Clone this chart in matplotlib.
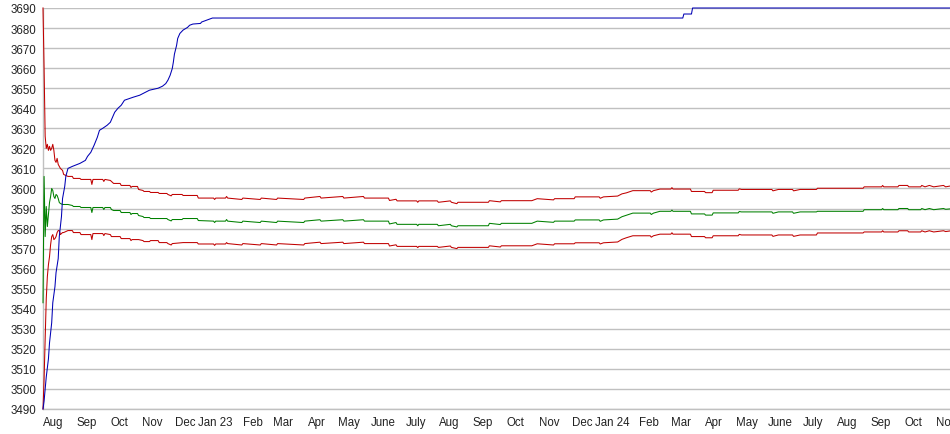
# plot.py
# 走势图：均值(绿)、上下轨(红)、累计最高(蓝)

import numpy as np
import pandas as pd
import matplotlib
matplotlib.use("Agg")
import matplotlib.pyplot as plt

plt.rcParams['font.family'] = ['Liberation Sans', 'DejaVu Sans']

# 数据（从图上读出，日期 = 起始日 + 天数）
start_date = "2022-08-06"

band_days = [0, 1, 2, 3, 4, 5, 6, 7, 8, 9,
             10, 11, 12, 13, 14, 15, 16, 18, 19, 23,
             27, 28, 34, 35, 44, 45, 46, 55, 56, 57,
             62, 63, 65, 71, 72, 80, 81, 82, 87, 88,
             92, 93, 98, 99, 106, 107, 114, 115, 118, 119,
             128, 129, 142, 143, 157, 158, 159, 168, 169, 170,
             183, 184, 200, 201, 215, 216, 240, 241, 255, 256,
             276, 277, 295, 296, 318, 319, 325, 326, 344, 345,
             346, 363, 364, 375, 376, 381, 382, 410, 411, 421,
             422, 450, 455, 470, 471, 489, 490, 512, 513, 516,
             529, 533, 537, 543, 559, 560, 562, 568, 578, 579,
             580, 596, 597, 609, 610, 616, 617, 640, 641, 643,
             671, 672, 677, 690, 691, 697, 712, 713, 755, 756,
             772, 773, 774, 787, 788, 796, 797, 808, 809, 812,
             816, 820, 829, 831, 835]

upper = [3690, 3660, 3626, 3620, 3622, 3619, 3621, 3619, 3620, 3622,
         3619, 3614, 3613, 3615, 3612, 3611, 3610, 3609, 3607, 3606,
         3606, 3605, 3605, 3604.5, 3604.5, 3602, 3604.5, 3604.5, 3603.5, 3604.5,
         3604, 3603.5, 3602.5, 3602.5, 3601.5, 3601.5, 3600.5, 3601, 3601, 3599.5,
         3599, 3598.5, 3598.5, 3598, 3598, 3597.5, 3597.5, 3597, 3596.3, 3597,
         3597, 3596.5, 3596.5, 3595.2, 3595.2, 3594.5, 3595.2, 3595.2, 3596, 3595.2,
         3594.5, 3595.2, 3594.5, 3595.2, 3594.5, 3595.2, 3594.5, 3595.2, 3596, 3595.2,
         3596, 3595.2, 3596, 3595.2, 3595.2, 3594, 3594.6, 3593.8, 3593.8, 3593.1,
         3593.8, 3593.8, 3593.1, 3593.8, 3593.1, 3592.4, 3593.1, 3593.1, 3593.9, 3593.3,
         3593.9, 3593.9, 3594.9, 3594.3, 3594.9, 3594.9, 3595.8, 3595.8, 3595.1, 3595.8,
         3596.2, 3597.3, 3597.8, 3598.9, 3598.9, 3598.2, 3598.9, 3599.7, 3599.7, 3600.4,
         3599.7, 3599.7, 3598.5, 3598.5, 3597.9, 3597.9, 3599.1, 3599.1, 3599.8, 3599.5,
         3599.5, 3598.8, 3599.5, 3599.5, 3598.8, 3599.5, 3599.5, 3600.1, 3600.1, 3600.8,
         3600.8, 3601.5, 3600.8, 3600.8, 3601.5, 3601.5, 3600.8, 3600.8, 3601.5, 3600.8,
         3601.5, 3600.8, 3601.5, 3600.8, 3601.2]

middle = [3543, 3606, 3576, 3591, 3581, 3587, 3593, 3596, 3600, 3599,
          3596, 3595, 3597, 3596.5, 3595, 3593, 3592.5, 3592, 3592, 3592,
          3591.5, 3591, 3591, 3590.5, 3590.5, 3588, 3590.5, 3590.5, 3589.5, 3590.5,
          3590.5, 3589.5, 3589, 3589, 3588, 3588, 3587, 3587.5, 3587.5, 3586.5,
          3586, 3585.5, 3585.5, 3585, 3585, 3585, 3585, 3584.5, 3583.8, 3584.5,
          3584.5, 3585, 3585, 3584, 3583.7, 3583, 3583.7, 3583.7, 3584.5, 3583.7,
          3583, 3583.7, 3583, 3583.7, 3583, 3583.7, 3583, 3583.7, 3584.4, 3583.7,
          3584.4, 3583.7, 3584.4, 3583.7, 3583.7, 3582.3, 3583, 3582.1, 3582.1, 3581.4,
          3582.1, 3582.1, 3581.4, 3582.1, 3581.4, 3580.8, 3581.4, 3581.4, 3582.6, 3582,
          3582.6, 3582.6, 3583.7, 3583.1, 3583.7, 3583.7, 3584.3, 3584.3, 3583.6, 3584.3,
          3584.7, 3585.9, 3586.6, 3587.7, 3587.7, 3587, 3587.7, 3588.6, 3588.6, 3589.2,
          3588.6, 3588.6, 3587.3, 3587.3, 3586.7, 3586.7, 3587.8, 3587.8, 3588.5, 3588.3,
          3588.3, 3587.6, 3588.3, 3588.3, 3587.6, 3588.3, 3588.3, 3588.6, 3588.6, 3589.4,
          3589.4, 3590, 3589.4, 3589.4, 3590, 3590, 3589.4, 3589.4, 3590, 3589.4,
          3590, 3589.4, 3590, 3589.6, 3589.8]

lower = [3490, 3505, 3525, 3545, 3556, 3562, 3566, 3572, 3576, 3577,
         3574.5, 3575, 3576, 3578, 3579, 3579, 3577, 3578, 3578, 3579,
         3579, 3578, 3578, 3577, 3577, 3574.5, 3577.5, 3577.5, 3576.5, 3577.5,
         3577, 3576, 3576, 3576, 3575, 3575, 3574, 3574.5, 3574.5, 3574.5,
         3574, 3573.5, 3573.5, 3574, 3574, 3573, 3573, 3572.5, 3571.8, 3572.5,
         3573, 3573, 3573, 3572.3, 3572.3, 3571.6, 3572.3, 3572.3, 3573, 3572.5,
         3571.8, 3572.5, 3571.8, 3572.5, 3571.8, 3572.5, 3571.8, 3572.5, 3573.2, 3572.5,
         3573.2, 3572.5, 3573.2, 3572.5, 3572.5, 3571.3, 3571.9, 3571.1, 3571.1, 3570.5,
         3571.1, 3571.1, 3570.6, 3571.3, 3570.6, 3570, 3570.6, 3570.6, 3571.4, 3570.8,
         3571.4, 3571.4, 3572.4, 3571.8, 3572.4, 3572.4, 3572.9, 3572.9, 3572.3, 3572.9,
         3573.3, 3574.6, 3575.4, 3576.4, 3576.4, 3575.7, 3576.4, 3577.2, 3577.2, 3577.9,
         3577.2, 3577.2, 3576, 3576, 3575.4, 3575.4, 3576.4, 3576.4, 3577.1, 3576.8,
         3576.8, 3576.1, 3576.8, 3576.8, 3576.1, 3576.8, 3576.8, 3577.8, 3577.8, 3578.3,
         3578.3, 3578.9, 3578.3, 3578.3, 3578.9, 3578.9, 3578.3, 3578.3, 3578.9, 3578.3,
         3578.9, 3578.3, 3578.9, 3578.5, 3578.8]

peak_days = [0, 1, 3, 5, 6, 8, 9, 11, 12, 14,
             15, 17, 18, 20, 21, 23, 27, 34, 39, 41,
             44, 47, 50, 52, 55, 59, 62, 64, 66, 69,
             72, 75, 83, 89, 98, 106, 110, 113, 115, 117,
             119, 120, 121, 123, 124, 126, 129, 133, 135, 138,
             145, 146, 151, 156, 589, 590, 597, 598, 835]

peak = [3490, 3494, 3506, 3515, 3523, 3533, 3543, 3551, 3558, 3565,
        3576, 3586, 3595, 3601, 3606, 3610, 3611, 3612.5, 3614, 3616,
        3618, 3621.5, 3625.5, 3629, 3630, 3631.5, 3633, 3635.5, 3638, 3640,
        3641.5, 3644, 3645.5, 3646.5, 3649, 3650, 3651, 3652.3, 3654, 3656.4,
        3659.8, 3663, 3667, 3671.4, 3674.8, 3677.3, 3679, 3680.3, 3681.4, 3682,
        3682.3, 3683, 3684, 3685, 3685, 3687, 3687, 3690, 3690]

tick_labels = ["Aug", "Sep", "Oct", "Nov", "Dec", "Jan 23", "Feb", "Mar", "Apr",
               "May", "June", "July", "Aug", "Sep", "Oct", "Nov", "Dec", "Jan 24",
               "Feb", "Mar", "Apr", "May", "June", "July", "Aug", "Sep", "Oct", "Nov"]


def to_dates(days):
    return pd.Timestamp(start_date) + pd.to_timedelta(days, unit="D")


# 画布
fig = plt.figure(figsize=(9.5, 4.35), dpi=100)
ax = fig.add_axes([43 / 950, 1 - 410 / 435, 1 - 43 / 950, 401 / 435])

c_grid = "#c0c0c0"
lw = 0.75

# 线画在坐标轴线之上
ax.plot(to_dates(band_days), upper, color="#c00000", lw=lw, clip_on=False, zorder=3)
ax.plot(to_dates(band_days), lower, color="#c00000", lw=lw, clip_on=False, zorder=3)
ax.plot(to_dates(band_days), middle, color="#008000", lw=lw, clip_on=False, zorder=3)
ax.plot(to_dates(peak_days), peak, color="#0000b4", lw=lw, clip_on=False, zorder=3)

ax.set_ylim(3490, 3690)
ax.set_xlim(to_dates([0])[0], to_dates([835])[0])
ax.set_yticks(np.arange(3490, 3691, 10))

# 月份标签放在每月中间，一月略靠前
month_starts = pd.date_range("2022-08-01", periods=len(tick_labels), freq="MS")
tick_pos = [m + pd.Timedelta(days=11 if m.month == 1 else 14) for m in month_starts]
ax.set_xticks(tick_pos)
ax.set_xticklabels(tick_labels)

ax.grid(axis="y", color=c_grid, lw=1.0)
ax.set_axisbelow(True)
for side in ["top", "right"]:
    ax.spines[side].set_visible(False)
for side in ["left", "bottom"]:
    ax.spines[side].set_color(c_grid)
    ax.spines[side].set_linewidth(1.0)

ax.tick_params(axis="both", length=0, labelsize=8.3, colors="#222222")
ax.tick_params(axis="y", pad=5)
ax.tick_params(axis="x", pad=5)

fig.savefig("out.png", dpi=100)
